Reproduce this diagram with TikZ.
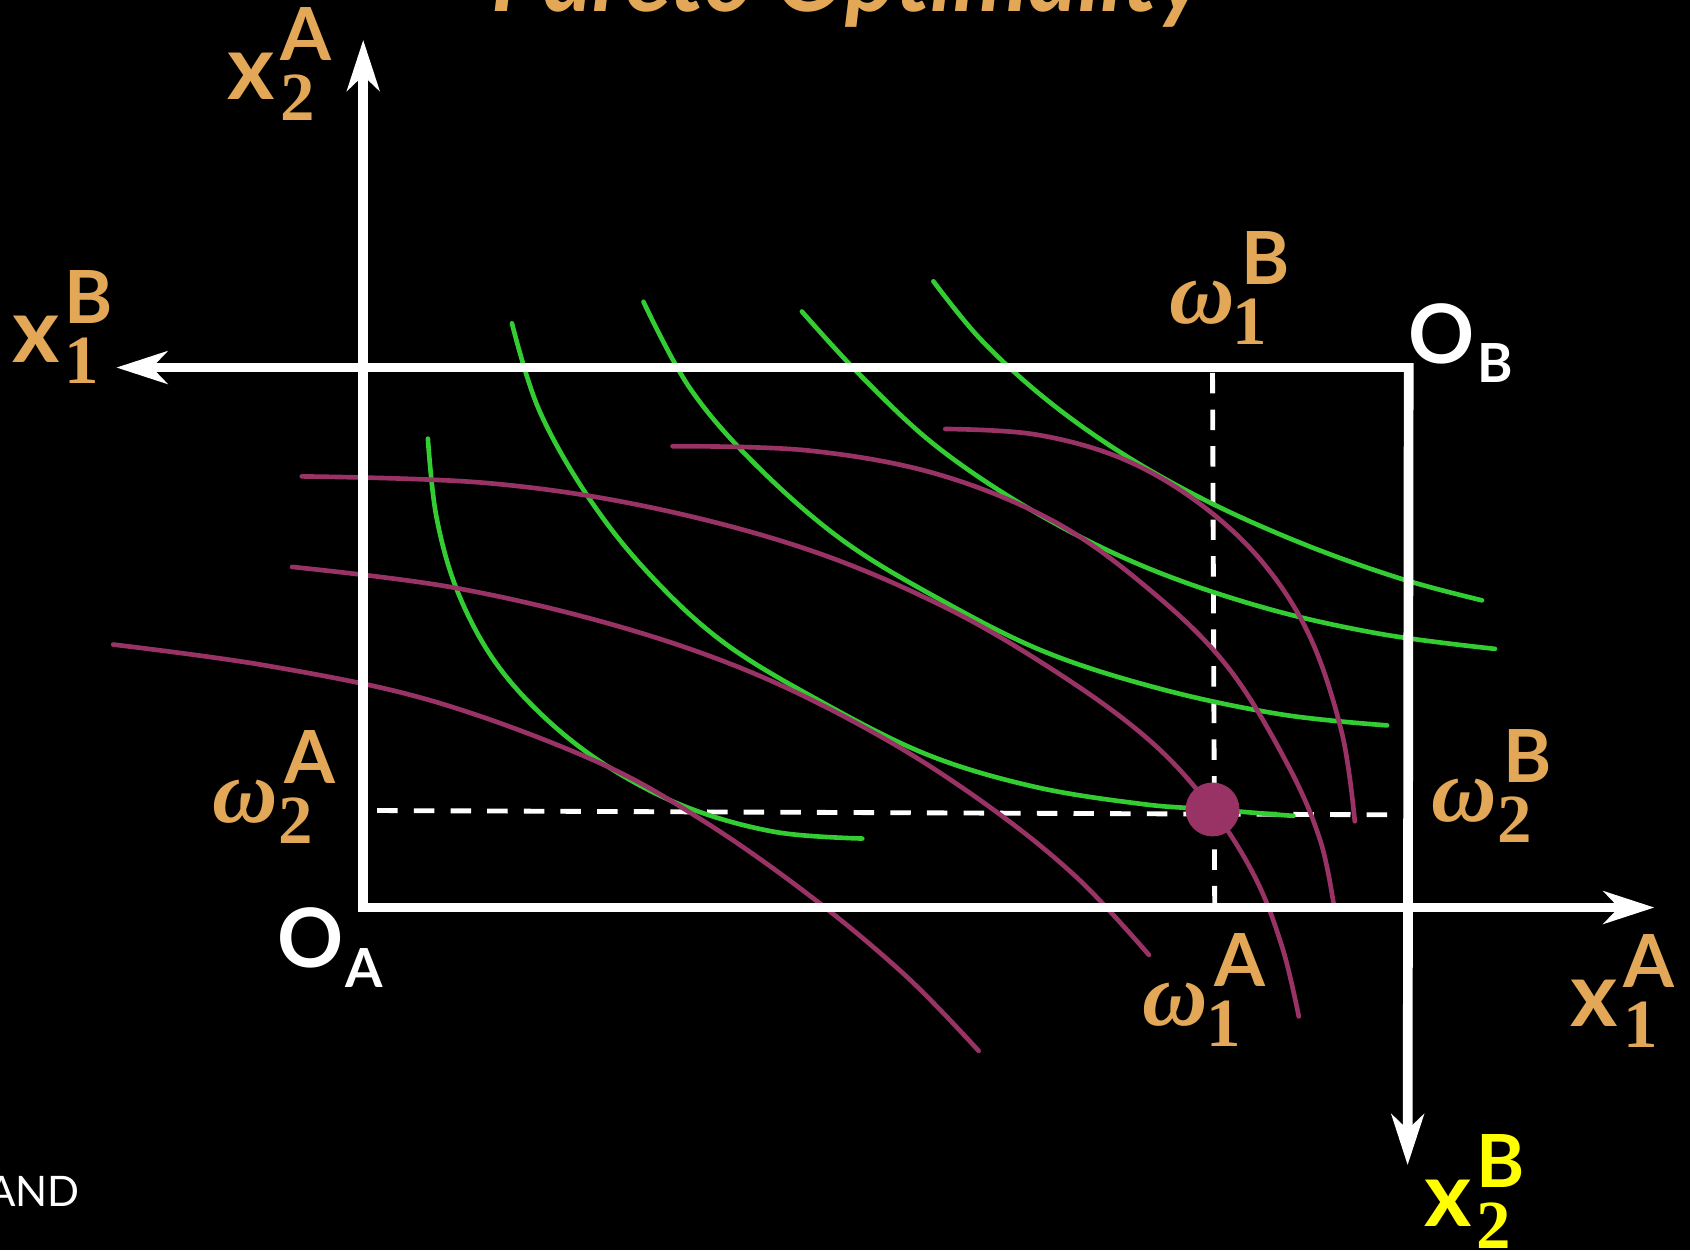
\documentclass[tikz,border=0pt]{standalone}
\usepackage{fontspec}
\setmainfont{Lato}
\newfontfamily\seriffont{Liberation Serif}
\usetikzlibrary{arrows.meta}
\definecolor{orng}{RGB}{227,168,87}
\definecolor{grn}{RGB}{51,204,51}
\definecolor{purp}{RGB}{153,51,102}
\definecolor{yel}{RGB}{255,255,0}
\newcommand\Xb{{\fontsize{84}{84}\selectfont\bfseries x}}
\newcommand\Wb{{\fontsize{84}{84}\selectfont\seriffont\bfseries\itshape ω}}
% #1 base, #2 sub, #3 sup, #4 kern before, #5 extra kern for sup
\newcommand\Pair[5]{#1\kern#4\rlap{\kern#5\raisebox{36pt}{\fontsize{68}{68}\selectfont\bfseries #3}}\raisebox{-20pt}{\fontsize{64}{64}\selectfont\seriffont\bfseries #2}}
\newcommand\Orig[1]{{\fontsize{76}{76}\selectfont\bfseries O}\kern2pt\raisebox{-18pt}{\fontsize{50}{50}\selectfont\bfseries #1}}
\tikzset{
  axis/.style={draw=white, line width=9pt},
  tip/.style={-{Stealth[length=47pt,width=30pt,inset=14pt]}},
  dashln/.style={draw=white, line width=4.5pt, dash pattern=on 19pt off 15pt},
  gcurve/.style={draw=grn, line width=4.3pt, line cap=round},
  pcurve/.style={draw=purp, line width=4.3pt, line cap=round},
  lab/.style={anchor=base west, inner sep=0pt, text=orng},
  wlab/.style={anchor=base west, inner sep=0pt, text=white},
}
\begin{document}
\begin{tikzpicture}[x=1pt,y=-1pt]
\fill[black] (0,0) rectangle (1568,1160);
\useasboundingbox (0,0) rectangle (1568,1160);

% title (cut at top)
\node[anchor=base, inner sep=0pt, text=orng] (title) at (787,11)
  {\fontsize{88}{88}\selectfont\bfseries\itshape Pareto Optimality};
% credit (cut at left)
\node[anchor=base east, inner sep=0pt, text=white] (credit) at (74,1119)
  {\fontsize{39}{39}\selectfont AND};

% coordinates
\coordinate (dhL) at (350,752);
\coordinate (dhR) at (1295,756);
\coordinate (dvT) at (1125,346);
\coordinate (dvB) at (1127,838);

% dashed endowment lines
\draw[dashln] (dhL) -- (dhR);
\draw[dashln] (dvT) -- (dvB);

% green indifference curves (B)
\draw[gcurve] plot[smooth, tension=0.6] coordinates {(397,407) (405,480) (425,550) (460,615) (510,670) (570,715) (640,750) (720,772) (800,778)};
\draw[gcurve] plot[smooth, tension=0.6] coordinates {(475,300) (500,380) (545,460) (600,530) (670,595) (760,650) (860,700) (960,730) (1060,746) (1125,751) (1200,757)};
\draw[gcurve] plot[smooth, tension=0.6] coordinates {(597,280) (640,360) (700,430) (780,500) (870,555) (970,605) (1080,640) (1190,663) (1287,673)};
\draw[gcurve] plot[smooth, tension=0.6] coordinates {(744,289) (800,350) (870,415) (960,475) (1060,525) (1170,563) (1280,588) (1387,602)};
\draw[gcurve] plot[smooth, tension=0.6] coordinates {(866,261) (910,315) (970,370) (1040,420) (1120,465) (1210,505) (1300,537) (1375,557)};

% purple indifference curves (A)
\draw[pcurve] plot[smooth, tension=0.6] coordinates {(105,598) (250,618) (400,650) (550,705) (650,760) (750,830) (840,905) (908,975)};
\draw[pcurve] plot[smooth, tension=0.6] coordinates {(271,526) (420,545) (570,580) (700,625) (820,685) (920,750) (1000,815) (1066,886)};
\draw[pcurve] plot[smooth, tension=0.6] coordinates {(280,442) (450,448) (600,470) (750,510) (880,565) (990,630) (1070,690) (1125,751) (1165,815) (1190,880) (1205,943)};
\draw[pcurve] plot[smooth, tension=0.6] coordinates {(624,414) (750,418) (870,440) (980,485) (1070,550) (1140,620) (1195,710) (1225,780) (1238,843)};
\draw[pcurve] plot[smooth, tension=0.6] coordinates {(877,398) (960,403) (1040,425) (1110,465) (1170,520) (1215,590) (1245,680) (1257,762)};

% axes / box
\coordinate (OA) at (337,842);
\coordinate (OB) at (1307,341);
\coordinate (tipUp) at (337,37);
\coordinate (tipRight) at (1535,842);
\coordinate (tipLeft) at (108,341);
\coordinate (tipDown) at (1306,1081);
\draw[axis, tip] (337,846) -- (tipUp);
\draw[axis, tip] (333,842) -- (tipRight);
\draw[axis, tip] (1311,341) -- (tipLeft);
\draw[axis, tip] (1307,337) -- (tipDown);

% endowment point
\node[circle, fill=purp, minimum size=50pt, inner sep=0pt] (E) at (1125,751) {};

% labels
\node[lab] (x2A) at (211,92) {\Pair{\Xb}{2}{A}{5pt}{0pt}};
\node[lab] (x1B) at (11,336) {\Pair{\Xb}{1}{B}{5pt}{0pt}};
\node[lab] (x1A) at (1457,952) {\Pair{\Xb}{1}{A}{5pt}{0pt}};
\node[lab, text=yel] (x2B) at (1321,1138) {\Pair{\Xb}{2}{B}{5pt}{0pt}};
\node[lab] (w1B) at (1085,300) {\Pair{\Wb}{1}{B}{-2pt}{8pt}};
\node[lab] (w2A) at (197,763) {\Pair{\Wb}{2}{A}{0pt}{6pt}};
\node[lab] (w1A) at (1060,951) {\Pair{\Wb}{1}{A}{-2pt}{8pt}};
\node[lab] (w2B) at (1328,762) {\Pair{\Wb}{2}{B}{0pt}{6pt}};
\node[wlab] (oA) at (257,898) {\Orig{A}};
\node[wlab] (oB) at (1307,337) {\Orig{B}};
\end{tikzpicture}
\end{document}
